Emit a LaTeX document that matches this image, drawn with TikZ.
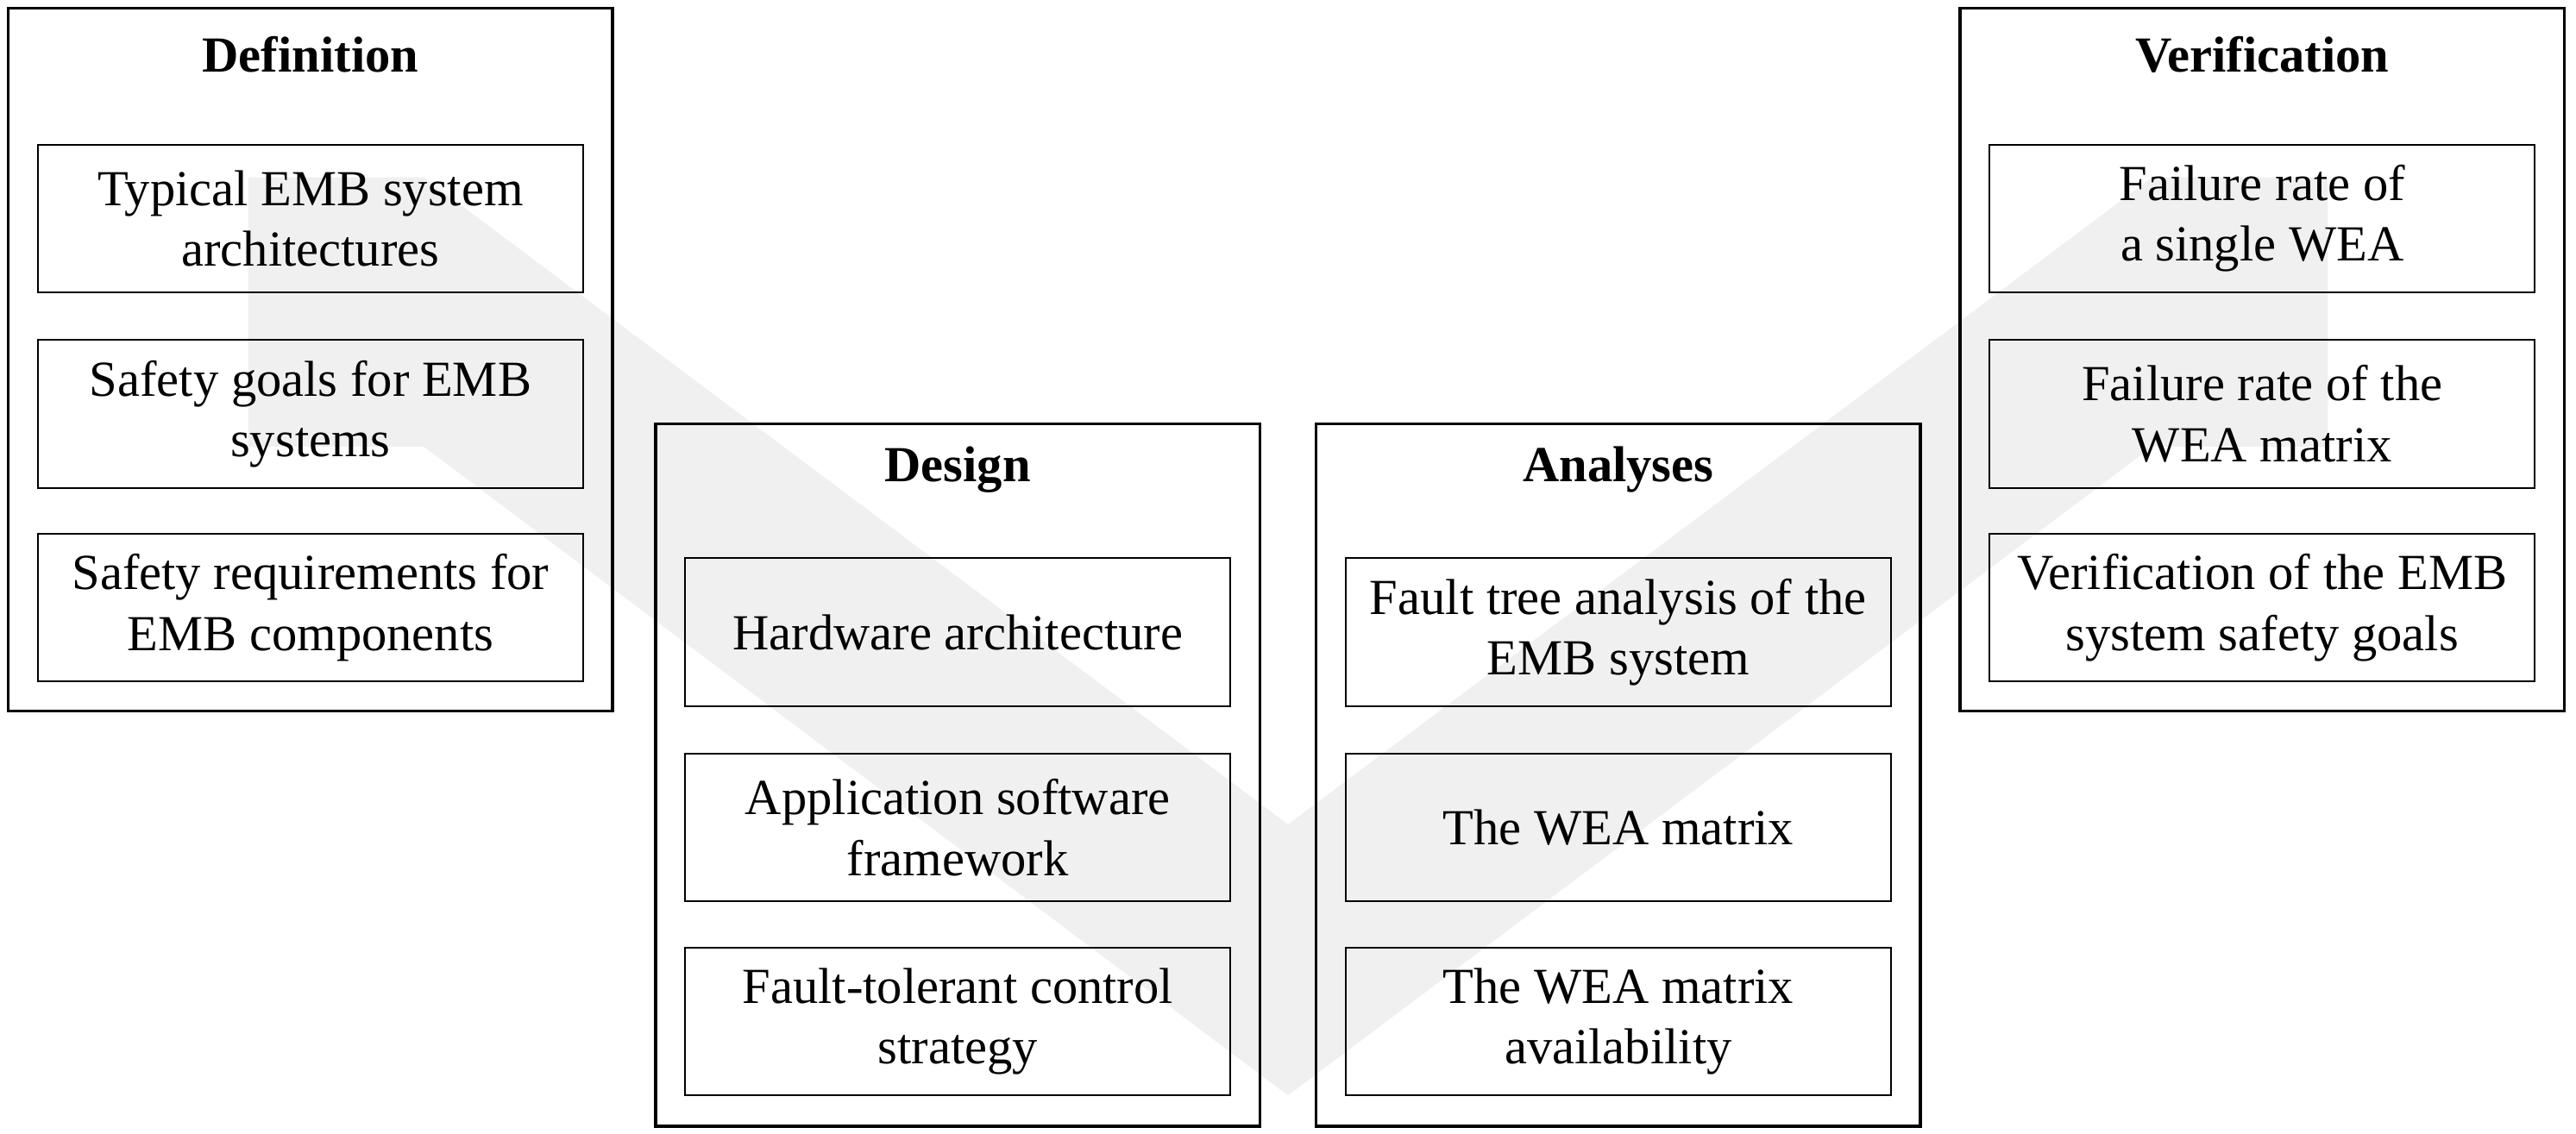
\documentclass[tikz,border=0pt]{standalone}
\usepackage{fontspec}
\setmainfont{Liberation Serif}
\begin{document}
\begin{tikzpicture}[x=0.02cm,y=-0.02cm,
	stage/.style={draw,line width=1.1pt,minimum width=7.36cm,minimum height=8.56cm,inner sep=0pt},
	task/.style={draw,line width=0.6pt,minimum width=6.64cm,minimum height=1.8cm,align=center,inner sep=0pt,font=\fontsize{17.5}{21}\selectfont},
	head/.style={font=\fontsize{17.5}{21}\selectfont\bfseries}]
	\useasboundingbox (0,0) rectangle (1568,690.5);
	
	% V background
	\fill[black!6] (151,108) -- (258,108) -- (784,502) -- (1310,108) -- (1417,108) -- (1417,272)
		-- (1310,272) -- (784,667) -- (258,272) -- (151,272) -- cycle;
	
	% Stages
	\node[stage] (def) at (189,219) {};
	\node[stage] (des) at (583,472) {};
	\node[stage] (ana) at (985,472) {};
	\node[stage] (ver) at (1377,219) {};
	
	% Headings
	\node[head] (defh) at (189,33) {Definition};
	\node[head] (desh) at (583,286) {Design};
	\node[head] (anah) at (985,286) {Analyses};
	\node[head] (verh) at (1377,33) {Verification};
	
	% Definition
	\node[task] (def1) at (189,133) {Typical EMB system\\architectures};
	\node[task] (def2) at (189,252) {Safety goals for EMB\\systems};
	\node[task] (def3) at (189,370) {Safety requirements for\\EMB components};
	
	% Design
	\node[task] (des1) at (583,385) {Hardware architecture};
	\node[task] (des2) at (583,504) {Application software\\framework};
	\node[task] (des3) at (583,622) {Fault-tolerant control\\strategy};
	
	% Analyses
	\node[task] (ana1) at (985,385) {Fault tree analysis of the\\EMB system};
	\node[task] (ana2) at (985,504) {The WEA matrix};
	\node[task] (ana3) at (985,622) {The WEA matrix\\availability};
	
	% Verification
	\node[task] (ver1) at (1377,133) {Failure rate of\\a single WEA};
	\node[task] (ver2) at (1377,252) {Failure rate of the\\WEA matrix};
	\node[task] (ver3) at (1377,370) {Verification of the EMB\\system safety goals};
\end{tikzpicture}
\end{document}
